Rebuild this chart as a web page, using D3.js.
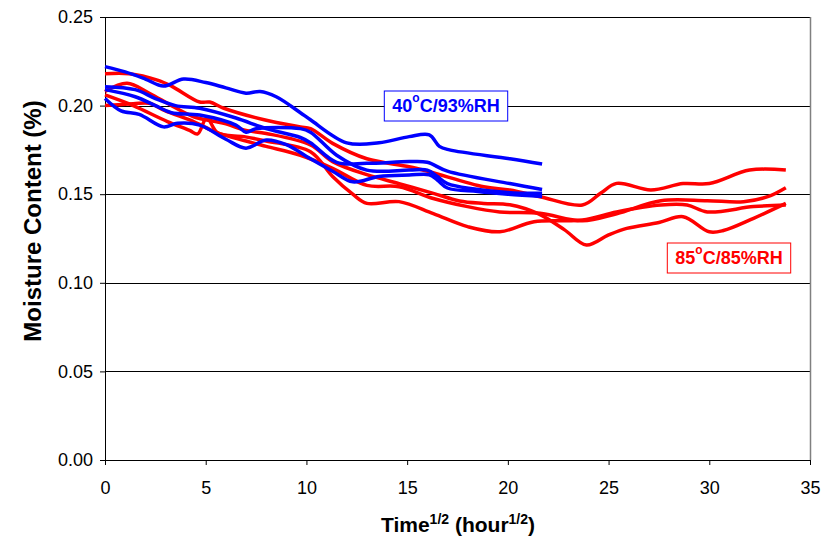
<!DOCTYPE html>
<html>
<head>
<meta charset="utf-8">
<script src="https://cdn.jsdelivr.net/npm/d3@7"></script>
<style>
    body { margin: 0; background: #ffffff; }
    svg { display: block; }
    text { font-family: Arial, "Liberation Sans", sans-serif; }
</style>
</head>
<body>
<div id="chart"></div>
<script>
// Data: [time^1/2, moisture content %]
const blue1 = [[0,0.222],[1,0.219],[2,0.215],[2.9,0.211],[3.9,0.215],[5,0.213],[6,0.210],[7,0.207],[7.7,0.208],[8.5,0.205],[9.7,0.196],[10.2,0.192],[12,0.179],[13.6,0.179],[15.1,0.1825],[16.1,0.1835],[16.6,0.177],[17.1,0.175],[20.1,0.170],[21.7,0.167]];
const blue2 = [[0,0.2107],[1.5,0.209],[2.5,0.204],[3.5,0.200],[4.7,0.1985],[6.5,0.193],[8,0.187],[9.7,0.182],[10.2,0.179],[11.5,0.168],[13,0.1674],[15.1,0.1684],[16,0.168],[17,0.163],[20.1,0.156],[21.7,0.1527]];
const blue3 = [[0,0.209],[1.5,0.205],[2.5,0.200],[3.3,0.196],[4.7,0.1947],[6.5,0.189],[7,0.185],[7.5,0.187],[9.7,0.187],[10.2,0.185],[11.5,0.172],[13,0.1636],[15.1,0.1636],[16,0.1636],[16.5,0.160],[17,0.156],[20,0.151],[21.7,0.1505]];
const blue4 = [[0,0.204],[0.8,0.197],[1.7,0.195],[2.9,0.188],[3.6,0.190],[4.7,0.189],[6,0.181],[7,0.176],[8,0.1806],[9,0.178],[10.2,0.170],[11.3,0.163],[12.3,0.157],[13.6,0.160],[15.1,0.1608],[16.1,0.161],[16.5,0.158],[17,0.1535],[18.5,0.1515],[20,0.150],[21.7,0.1487]];

const red1 = [[0,0.218],[1.2,0.218],[2.6,0.2144],[3.3,0.211],[4.7,0.202],[5.2,0.202],[5.9,0.1985],[7.9,0.192],[9.7,0.188],[10.2,0.187],[11.3,0.1787],[13,0.170],[15.1,0.1655],[16.1,0.1627],[18.8,0.1542],[20.1,0.1524],[21.6,0.1486],[23.7,0.1439],[24.6,0.1505],[25.4,0.1561],[27.1,0.1524],[28.7,0.156],[30,0.156],[32,0.1636],[33.8,0.1636]];
const red2 = [[0,0.200],[1.4,0.201],[2.2,0.2013],[3,0.197],[4.4,0.191],[5.5,0.185],[7,0.180],[8,0.177],[9.7,0.172],[11.3,0.1646],[13,0.155],[14.6,0.1542],[16.3,0.1476],[18,0.143],[19.6,0.140],[21.6,0.1392],[23.7,0.135],[25.4,0.139],[27.6,0.1463],[29.9,0.1463],[31.7,0.1458],[32.9,0.1486],[33.8,0.1537]];
const red3 = [[0,0.206],[1.4,0.200],[3.1,0.191],[4.2,0.186],[4.6,0.184],[5.05,0.193],[5.6,0.1845],[6.9,0.1825],[8,0.180],[10.2,0.174],[11.3,0.160],[12.3,0.150],[13,0.1448],[14.6,0.1458],[16.3,0.139],[18,0.1317],[19.6,0.1288],[21.3,0.1345],[23.7,0.1354],[25.4,0.140],[27.6,0.1439],[28.9,0.1439],[29.9,0.140],[32.2,0.143],[33.8,0.1439]];
const red4 = [[0,0.208],[1.1,0.2126],[2.2,0.207],[3.3,0.200],[4.4,0.1937],[5.9,0.190],[7,0.186],[8,0.1843],[10.2,0.1778],[11.3,0.1684],[13,0.161],[14.6,0.156],[16.3,0.1505],[17.6,0.1462],[18.8,0.1448],[20.1,0.1440],[21.5,0.139],[22.8,0.130],[23.9,0.1213],[25,0.127],[25.9,0.1307],[27.5,0.134],[28.7,0.1373],[30,0.1288],[30.7,0.1295],[32.2,0.1364],[33.8,0.1448]];

const redSeries = [red1, red2, red3, red4];
const blueSeries = [blue1, blue2, blue3, blue4];

const xTicks = [0, 5, 10, 15, 20, 25, 30, 35];
const yTicks = [0, 0.05, 0.10, 0.15, 0.20, 0.25];

// Layout
const width = 835;
const height = 539;
const margin = { top: 17, right: 25, bottom: 79, left: 105 };
const innerW = width - margin.left - margin.right;
const innerH = height - margin.top - margin.bottom;

const svg = d3.select("#chart")
    .append("svg")
    .attr("width", width)
    .attr("height", height);

const g = svg.append("g")
    .attr("transform", `translate(${margin.left},${margin.top})`);

const x = d3.scaleLinear().domain([0, 35]).range([0, innerW]);
const y = d3.scaleLinear().domain([0, 0.25]).range([innerH, 0]);

// Gridlines
g.append("g")
    .selectAll("line")
    .data(yTicks.slice(1))
    .enter()
    .append("line")
    .attr("x1", 0)
    .attr("x2", innerW)
    .attr("y1", d => Math.round(y(d)) + 0.5)
    .attr("y2", d => Math.round(y(d)) + 0.5)
    .attr("stroke", "#000000")
    .attr("stroke-width", 1);

// Plot border (right side)
g.append("line")
    .attr("x1", innerW + 0.5)
    .attr("x2", innerW + 0.5)
    .attr("y1", 0)
    .attr("y2", innerH)
    .attr("stroke", "#808080")
    .attr("stroke-width", 1.5);

// Axes
const xAxis = g.append("g")
    .attr("transform", `translate(0,${innerH})`)
    .call(d3.axisBottom(x).tickValues(xTicks).tickSize(5).tickSizeOuter(0).tickPadding(16));

const yAxis = g.append("g")
    .call(d3.axisLeft(y).tickValues(yTicks).tickFormat(d3.format(".2f")).tickSize(5).tickSizeOuter(0).tickPadding(7));

[xAxis, yAxis].forEach(ax => {
    ax.selectAll("text")
        .attr("font-size", "18px")
        .attr("font-family", "Arial, 'Liberation Sans', sans-serif")
        .attr("fill", "#000000");
    ax.selectAll("line").attr("stroke", "#000000");
    ax.select(".domain").attr("stroke", "#000000");
});

// Lines
const line = d3.line()
    .x(d => x(d[0]))
    .y(d => y(d[1]))
    .curve(d3.curveCatmullRom.alpha(0.5));

g.append("g")
    .selectAll("path")
    .data(redSeries)
    .enter()
    .append("path")
    .attr("d", line)
    .attr("fill", "none")
    .attr("stroke", "#ff0000")
    .attr("stroke-width", 3.5);

g.append("g")
    .selectAll("path")
    .data(blueSeries)
    .enter()
    .append("path")
    .attr("d", line)
    .attr("fill", "none")
    .attr("stroke", "#0000ff")
    .attr("stroke-width", 3.5);

// Labels with boxes
function addLabel(cx, cy, temp, rh, color) {
    const lg = svg.append("g");
    const rect = lg.append("rect")
        .attr("fill", "#ffffff")
        .attr("stroke", color)
        .attr("stroke-width", 1);
    const t = lg.append("text")
        .attr("x", cx)
        .attr("y", cy)
        .attr("text-anchor", "middle")
        .attr("dominant-baseline", "central")
        .attr("font-size", "18px")
        .attr("font-weight", "bold")
        .attr("fill", color);
    t.append("tspan").text(temp);
    t.append("tspan").attr("font-size", "12px").attr("dy", "-8").text("o");
    t.append("tspan").attr("dy", "8").text("C/" + rh);
    const bb = t.node().getBBox();
    rect.attr("x", bb.x - 8)
        .attr("y", cy - 15)
        .attr("width", bb.width + 16)
        .attr("height", 30);
}

addLabel(446, 106, "40", "93%RH", "#0000ff");
addLabel(729, 258, "85", "85%RH", "#ff0000");

// Axis titles
const xTitle = svg.append("text")
    .attr("x", 458)
    .attr("y", 532)
    .attr("text-anchor", "middle")
    .attr("font-size", "21px")
    .attr("font-weight", "bold");
xTitle.append("tspan").text("Time");
xTitle.append("tspan").attr("font-size", "14px").attr("dy", "-8").text("1/2");
xTitle.append("tspan").attr("dy", "8").text(" (hour");
xTitle.append("tspan").attr("font-size", "14px").attr("dy", "-8").text("1/2");
xTitle.append("tspan").attr("dy", "8").text(")");

svg.append("text")
    .attr("transform", "translate(41,221) rotate(-90)")
    .attr("text-anchor", "middle")
    .attr("font-size", "24px")
    .attr("font-weight", "bold")
    .text("Moisture Content (%)");
</script>
</body>
</html>
